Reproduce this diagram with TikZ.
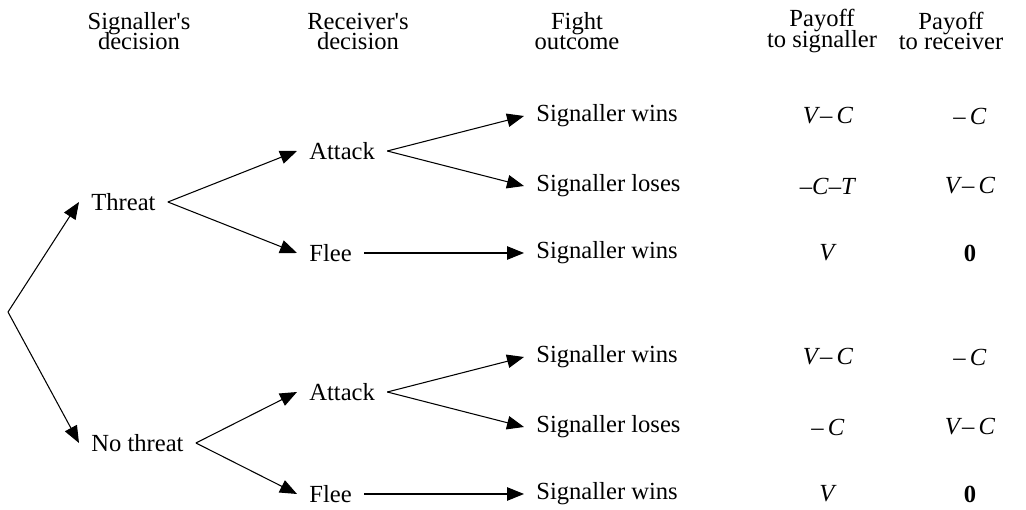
\documentclass[tikz,border=0pt]{standalone}
\usepackage{fontspec}
\setmainfont{Liberation Serif}
\usetikzlibrary{positioning,arrows.meta}
\newcommand\tightlines{\setlength{\lineskiplimit}{-20pt}}
\tikzset{
  choice/.style={anchor=west,inner xsep=0.24cm,inner ysep=1pt,
                 font=\fontsize{14}{16}\selectfont},
  payoff/.style={inner sep=1pt,font=\fontsize{14}{16}\selectfont},
  header/.style={align=center,inner sep=1pt,
                 font=\fontsize{14}{11.4}\selectfont\tightlines},
  branch/.style={-{Triangle[length=0.34cm,width=0.27cm]},line width=0.6pt},
}

\begin{document}
\begin{tikzpicture}
  \useasboundingbox (0,0) rectangle (20.52,-10.2);
  % --- column headers ---
  \node[header] (hsig)  at (2.78,-0.62)  {Signaller\textquotesingle s\\decision};
  \node[header] (hrec)  at (7.16,-0.62)  {Receiver\textquotesingle s\\decision};
  \node[header] (hout)  at (11.54,-0.62) {Fight\\outcome};
  \node[header] (hpays) at (16.44,-0.62) {Payoff\\to signaller};
  \node[header] (hpayr) at (19.02,-0.62) {Payoff\\to receiver};
  % --- decisions ---
  \coordinate (root) at (0.16,-6.24);
  \node[choice] (threat)   at (1.58,-4.04) {Threat};
  \node[choice] (nothreat) at (1.58,-8.86) {No threat};
  \node[choice] (atk1)  at (5.94,-3.02) {Attack};
  \node[choice] (flee1) at (5.94,-5.06) {Flee};
  \node[choice] (atk2)  at (5.94,-7.84) {Attack};
  \node[choice] (flee2) at (5.94,-9.88) {Flee};
  % --- outcomes and payoffs ---
  \foreach \i/\y/\lab/\ps/\pr in {
      1/-2.32/{Signaller wins}/{\textit{V}–\,\textit{C}}/{–\,\textit{C}},
      2/-3.72/{Signaller loses}/{–\textit{C}–\textit{T}}/{\textit{V}–\,\textit{C}},
      3/-5.06/{Signaller wins}/{\textit{V}}/{\textbf{0}},
      4/-7.14/{Signaller wins}/{\textit{V}–\,\textit{C}}/{–\,\textit{C}},
      5/-8.54/{Signaller loses}/{–\,\textit{C}}/{\textit{V}–\,\textit{C}},
      6/-9.88/{Signaller wins}/{\textit{V}}/{\textbf{0}}} {
    \node[choice] (out\i) at (10.48,\y) {\lab};
    \node[payoff] (pays\i) at (16.56,\y) {\ps};
    \node[payoff] (payr\i) at (19.40,\y) {\pr};
  }
  % --- branches ---
  \draw[branch] (root) -- (threat.west);
  \draw[branch] (root) -- (nothreat.west);
  \foreach \a/\b in {threat/atk1,threat/flee1,nothreat/atk2,nothreat/flee2,
                     atk1/out1,atk1/out2,flee1/out3,
                     atk2/out4,atk2/out5,flee2/out6}
    \draw[branch] (\a.east) -- (\b.west);
\end{tikzpicture}
\end{document}
